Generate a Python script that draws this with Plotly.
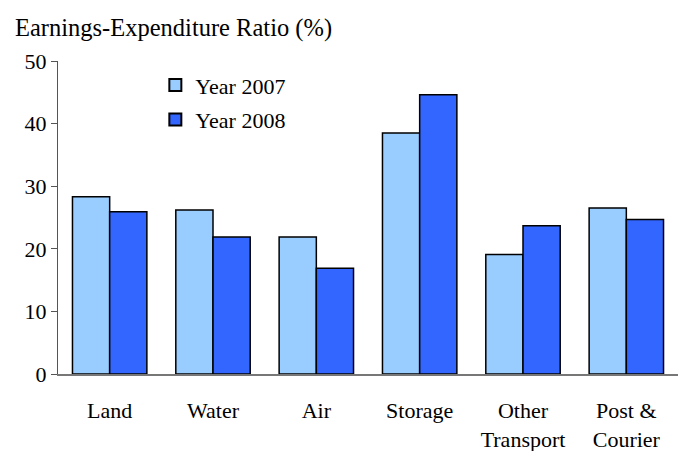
import plotly.graph_objects as go

categories = ["Land", "Water", "Air", "Storage", "Other<br>Transport", "Post &<br>Courier"]
year2007 = [28.3, 26.2, 21.9, 38.5, 19.1, 26.5]
year2008 = [25.9, 21.9, 16.9, 44.6, 23.7, 24.7]

font_family = "Liberation Serif, Times New Roman, serif"

fig = go.Figure()
fig.add_trace(go.Bar(x=categories, y=year2007, name="Year 2007", legendgroup="a",
                     marker=dict(color="#99CCFF", line=dict(color="black", width=1.5))))
fig.add_trace(go.Bar(x=categories, y=year2008, name="Year 2008", legendgroup="b",
                     marker=dict(color="#3366FF", line=dict(color="black", width=1.5))))

fig.update_layout(
    width=680, height=451,
    margin=dict(l=58, r=2, t=61, b=77),
    plot_bgcolor="white", paper_bgcolor="white",
    barmode="group", bargap=0.28, bargroupgap=0,
    font=dict(family=font_family, size=22, color="black"),
    showlegend=True,
    legend=dict(x=0.157, y=0.99, xanchor="left", yanchor="top",
                font=dict(size=22), bgcolor="rgba(0,0,0,0)",
                tracegroupgap=3, itemsizing="constant"),
    annotations=[dict(text="Earnings-Expenditure Ratio (%)", xref="paper", yref="paper",
                      x=-0.072, y=1.0, xanchor="left", yanchor="middle",
                      yshift=33, showarrow=False, font=dict(size=24.5))],
)
fig.update_yaxes(range=[0, 50], tickvals=[0, 10, 20, 30, 40, 50], showgrid=False,
                 showline=True, linecolor="#555555", linewidth=1,
                 ticks="outside", ticklen=6, tickcolor="#555555", zeroline=False,
                 tickfont=dict(size=22), automargin=False)
fig.update_xaxes(showline=True, linecolor="#777777", linewidth=1.5, ticks="",
                 tickfont=dict(size=22), ticklabelstandoff=16, automargin=False)

fig.write_html("out.html", config={"displayModeBar": False},
               post_script="document.body.style.margin='0px';")
